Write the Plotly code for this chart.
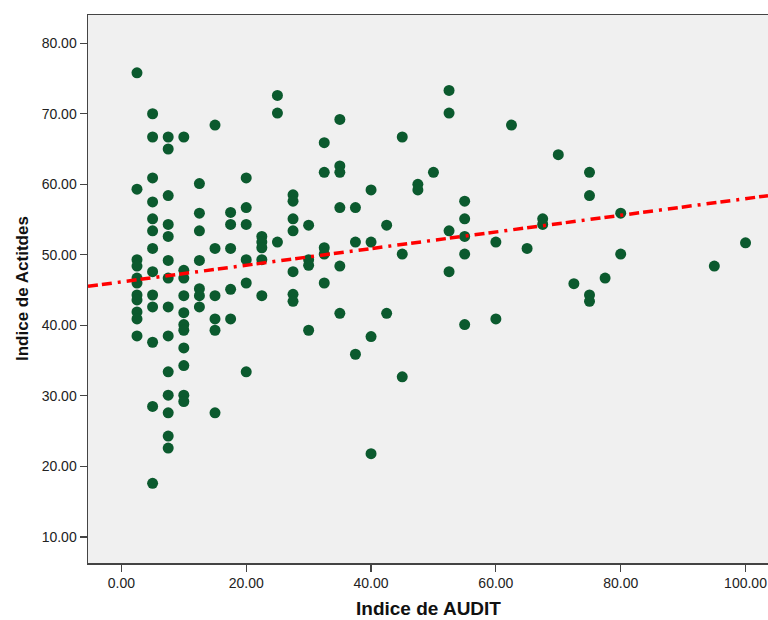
import numpy as np
import plotly.graph_objects as go

# AUDIT index (x) and attitudes index (y)
audit = (
    [2.5] * 11 + [5] * 13 + [7.5] * 14 + [10] * 11 + [12.5] * 7 + [15] * 6 + [17.5] * 5
    + [20] * 6 + [22.5] * 5 + [25] * 3 + [27.5] * 7 + [30] * 4 + [32.5] * 5 + [35] * 6
    + [37.5] * 3 + [40] * 4 + [42.5] * 2 + [45] * 3 + [47.5] * 2 + [50] * 1 + [52.5] * 4
    + [55] * 5 + [60] * 2 + [62.5] + [65] + [67.5] * 2 + [70] + [72.5] + [75] * 4
    + [77.5] + [80] * 2 + [95] + [100]
)
actitudes = [
    75.8, 59.3, 49.3, 48.4, 46.7, 46.0, 44.3, 43.6, 41.9, 40.9, 38.5,              # 2.5
    70.0, 66.7, 60.9, 57.5, 55.1, 53.4, 50.9, 47.6, 44.3, 42.6, 37.6, 28.5, 17.6,  # 5
    66.7, 65.0, 58.4, 54.3, 52.6, 49.2, 46.7, 42.6, 38.5, 33.4, 30.1, 27.6, 24.3, 22.6,  # 7.5
    66.7, 47.8, 46.7, 44.2, 41.8, 40.1, 39.3, 36.8, 34.3, 30.1, 29.2,              # 10
    60.1, 55.9, 53.4, 49.2, 45.2, 44.2, 42.6,                                      # 12.5
    68.4, 50.9, 44.2, 40.9, 39.3, 27.6,                                            # 15
    56.0, 54.3, 50.9, 45.1, 40.9,                                                  # 17.5
    60.9, 56.7, 54.3, 49.3, 46.0, 33.4,                                            # 20
    52.6, 51.8, 51.0, 49.3, 44.2,                                                  # 22.5
    72.6, 70.1, 51.8,                                                              # 25
    58.5, 57.6, 55.1, 53.4, 47.6, 44.4, 43.4,                                      # 27.5
    54.2, 49.3, 48.5, 39.3,                                                        # 30
    65.9, 61.7, 51.0, 50.1, 46.0,                                                  # 32.5
    69.2, 62.6, 61.7, 56.7, 48.4, 41.7,                                            # 35
    56.7, 51.8, 35.9,                                                              # 37.5
    59.2, 51.8, 38.4, 21.8,                                                        # 40
    54.2, 41.7,                                                                    # 42.5
    66.7, 50.1, 32.7,                                                              # 45
    60.0, 59.2,                                                                    # 47.5
    61.7,                                                                          # 50
    73.3, 70.1, 53.4, 47.6,                                                        # 52.5
    57.6, 55.1, 52.6, 50.1, 40.1,                                                  # 55
    51.8, 40.9,                                                                    # 60
    68.4,                                                                          # 62.5
    50.9,                                                                          # 65
    55.1, 54.3,                                                                    # 67.5
    64.2,                                                                          # 70
    45.9,                                                                          # 72.5
    61.7, 58.4, 44.3, 43.4,                                                        # 75
    46.7,                                                                          # 77.5
    55.9, 50.1,                                                                    # 80
    48.4,                                                                          # 95
    51.7,                                                                          # 100
]

# fit line as drawn in the reference (intercept, slope)
fit_intercept = 46.16
fit_slope = 0.118

x_ticks = [0, 20, 40, 60, 80, 100]
y_ticks = [10, 20, 30, 40, 50, 60, 70, 80]
x_range = [-5.35, 103.6]
y_range = [6.3, 84.0]

fit_x = np.array(x_range)
fit_y = fit_intercept + fit_slope * fit_x

fig = go.Figure()
fig.add_trace(go.Scatter(
    x=audit, y=actitudes, mode="markers",
    marker=dict(size=11, color="#0B5A2E", line=dict(width=0)),
    showlegend=False, hoverinfo="skip", cliponaxis=True,
))
fig.add_trace(go.Scatter(
    x=fit_x, y=fit_y, mode="lines",
    line=dict(color="#FF0000", width=3.5, dash="10px,4px,10px,6px,3px,6px"),
    showlegend=False, hoverinfo="skip",
))

tick_font = dict(family="Liberation Sans, Arial, sans-serif", size=14, color="#222222")
xtitle_font = dict(family="Liberation Sans, Arial, sans-serif", size=19, color="#111111")
ytitle_font = dict(family="Liberation Sans, Arial, sans-serif", size=17, color="#111111")

fig.update_layout(
    width=768, height=620,
    margin=dict(l=88, r=0, t=15, b=57),
    paper_bgcolor="white",
    plot_bgcolor="#F0F0F0",
    hovermode=False,
    xaxis=dict(
        range=x_range, tickvals=x_ticks, ticktext=[f"{v:.2f}" for v in x_ticks],
        showgrid=False, zeroline=False, ticks="outside", ticklen=7, tickwidth=1.2,
        tickcolor="#444444", showline=True, linecolor="#444444", linewidth=1.5, mirror=True,
        tickfont=tick_font, automargin=False,
    ),
    yaxis=dict(
        range=y_range, tickvals=y_ticks, ticktext=[f"{v:.2f}" for v in y_ticks],
        showgrid=False, zeroline=False, ticks="outside", ticklen=7, tickwidth=1.2,
        tickcolor="#444444", showline=True, linecolor="#444444", linewidth=1.5,
        tickfont=tick_font, automargin=False,
    ),
    annotations=[
        dict(text="<b>Indice de AUDIT</b>", xref="paper", yref="paper",
             x=0.5, y=-45 / 548, xanchor="center", yanchor="middle",
             showarrow=False, font=xtitle_font),
        dict(text="<b>Indice de Actitdes</b>", xref="paper", yref="paper",
             x=-66 / 680, y=0.5, xanchor="center", yanchor="middle", textangle=-90,
             showarrow=False, font=ytitle_font),
    ],
)

fig.write_html(
    "out.html",
    config={"displayModeBar": False, "staticPlot": True},
    post_script="document.body.style.margin='0';document.body.style.overflow='hidden';",
)
